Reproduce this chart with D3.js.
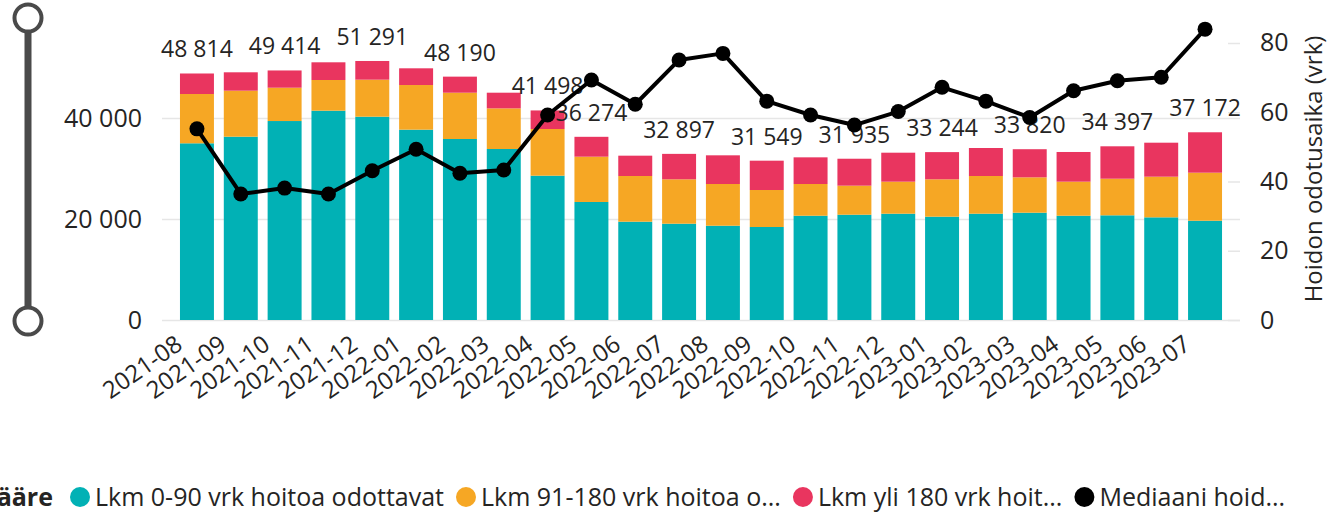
<html>
<head>
<script src="https://d3js.org/d3.v7.min.js"></script>
<style>
  body { margin: 0; background: #fff; }
  text { font-family: "Open Sans", "Noto Sans", sans-serif; fill: #252423; }
</style>
</head>
<body>
<svg id="chart" width="1332" height="514"></svg>
<script>
const months = ["2021-08", "2021-09", "2021-10", "2021-11", "2021-12", "2022-01", "2022-02", "2022-03",
  "2022-04", "2022-05", "2022-06", "2022-07", "2022-08", "2022-09", "2022-10", "2022-11", "2022-12",
  "2023-01", "2023-02", "2023-03", "2023-04", "2023-05", "2023-06", "2023-07"];
const lkm0_90 = [34990, 36300, 39400, 41450, 40260, 37690, 35840, 33860, 28580, 23370, 19470, 19070,
  18670, 18415, 20650, 20850, 21050, 20460, 21050, 21250, 20650, 20730, 20330, 19660];
const lkm91_180 = [9760, 9110, 6600, 6075, 7330, 8840, 9170, 8050, 9240, 8970, 9045, 8790,
  8260, 7325, 6280, 5750, 6340, 7400, 7465, 7000, 6740, 7250, 8050, 9510];
const lkmYli180 = [4064, 3640, 3414, 3505, 3701, 3310, 3180, 3100, 3678, 3934, 4025, 5037,
  5680, 5809, 5280, 5335, 5740, 5384, 5545, 5570, 5880, 6417, 6730, 8002];
const mediaani = [55.2, 36.4, 38.1, 36.4, 43.1, 49.3, 42.4, 43.3, 59.2, 69.3, 62.3, 75.1,
  77.0, 63.2, 59.2, 56.3, 60.2, 67.2, 63.2, 58.5, 66.2, 69.1, 70.1, 84.0];
// which totals power bi showed a label for
const labelled = [0, 2, 4, 6, 8, 9, 11, 13, 15, 17, 19, 21, 23];
const leftTicks = [0, 20000, 40000];
const rightTicks = [0, 20, 40, 60, 80];
const seriesNames = ["Lkm 0-90 vrk hoitoa odottavat", "Lkm 91-180 vrk hoitoa o...", "Lkm yli 180 vrk hoit...", "Mediaani hoid..."];
const colors = ["#01B1B5", "#F6A724", "#E9355F", "#000000"];

const svg = d3.select("#chart");
const fi = d3.formatLocale({ decimal: ",", thousands: " ", grouping: [3], currency: ["", "€"] });
const fmt = fi.format(",d");

const rows = months.map((m, i) => ({ month: m, a: lkm0_90[i], b: lkm91_180[i], c: lkmYli180[i] }));
const stacked = d3.stack().keys(["a", "b", "c"])(rows);

const x = d3.scaleBand().domain(months).range([162, 1240]).paddingInner(0.225).paddingOuter(0.41);
const yL = d3.scaleLinear().domain([0, 56040]).range([320, 37]);
const yR = d3.scaleLinear().domain([0, 81.73]).range([320, 37]);

// gridlines
svg.append("g")
    .attr("transform", "translate(162,0)")
    .call(d3.axisLeft(yL).tickValues(leftTicks).tickSize(-1078).tickFormat(""))
    .call(g => g.select(".domain").remove())
    .call(g => g.selectAll("line").attr("stroke", "#e6e6e6").attr("stroke-width", 1.5));
svg.append("g")
    .attr("transform", "translate(1228,0)")
    .call(d3.axisRight(yR).tickValues(rightTicks).tickSize(12).tickFormat(""))
    .call(g => g.select(".domain").remove())
    .call(g => g.selectAll("line").attr("stroke", "#e6e6e6").attr("stroke-width", 1.5));

// bars
svg.append("g").selectAll("g").data(stacked).join("g")
    .attr("fill", (d, i) => colors[i])
    .selectAll("rect").data(d => d).join("rect")
    .attr("x", d => x(d.data.month))
    .attr("width", x.bandwidth())
    .attr("y", d => yL(d[1]))
    .attr("height", d => yL(d[0]) - yL(d[1]));

// total labels
svg.append("g").selectAll("text").data(labelled).join("text")
    .attr("x", i => x(months[i]) + x.bandwidth() / 2)
    .attr("y", i => yL(lkm0_90[i] + lkm91_180[i] + lkmYli180[i]) - 16)
    .attr("text-anchor", "middle")
    .style("font-size", "23px")
    .text(i => fmt(lkm0_90[i] + lkm91_180[i] + lkmYli180[i]));

// median line
const line = d3.line()
    .x((d, i) => x(months[i]) + x.bandwidth() / 2)
    .y(d => yR(d));
svg.append("path").datum(mediaani)
    .attr("d", line)
    .attr("fill", "none")
    .attr("stroke", "#000")
    .attr("stroke-width", 4)
    .attr("stroke-linejoin", "round");
svg.append("g").selectAll("circle").data(mediaani).join("circle")
    .attr("cx", (d, i) => x(months[i]) + x.bandwidth() / 2)
    .attr("cy", d => yR(d))
    .attr("r", 7.5)
    .attr("fill", "#000");

// axes
svg.append("g")
    .attr("transform", "translate(142,0)")
    .call(d3.axisLeft(yL).tickValues(leftTicks).tickFormat(fmt).tickSize(0).tickPadding(0))
    .call(g => g.select(".domain").remove())
    .call(g => g.selectAll("text").style("font-size", "25px").attr("fill", "#252423"));

svg.append("g")
    .attr("transform", "translate(1260,0)")
    .call(d3.axisRight(yR).tickValues(rightTicks).tickSize(0).tickPadding(0))
    .call(g => g.select(".domain").remove())
    .call(g => g.selectAll("text").style("font-size", "25px").attr("fill", "#252423"));

svg.append("g")
    .attr("transform", "translate(0,320)")
    .call(d3.axisBottom(x).tickSize(0))
    .call(g => g.select(".domain").remove())
    .call(g => g.selectAll("text")
        .attr("y", 0).attr("dy", 0)
        .attr("transform", "translate(-13,28) rotate(-35)")
        .attr("text-anchor", "end")
        .style("font-size", "24px")
        .attr("fill", "#252423"));

svg.append("text")
    .attr("transform", "translate(1322,169) rotate(-90)")
    .attr("text-anchor", "middle")
    .style("font-size", "24px")
    .text("Hoidon odotusaika (vrk)");

// slicer handle on the left
const slider = svg.append("g").attr("stroke", "#4a4a4a");
slider.append("line").attr("x1", 28).attr("x2", 28).attr("y1", 18).attr("y2", 321).attr("stroke-width", 7);
slider.selectAll("circle").data([18, 321]).join("circle")
    .attr("cx", 28).attr("cy", d => d).attr("r", 13.5)
    .attr("fill", "#fff").attr("stroke-width", 4);

// legend
const legend = svg.append("g");
legend.append("text")
    .attr("x", 53).attr("y", 506)
    .attr("text-anchor", "end")
    .style("font-size", "25px").style("font-weight", "bold")
    .text("ääre");
let lx = 80;
seriesNames.forEach((name, i) => {
    legend.append("circle").attr("cx", lx).attr("cy", 497).attr("r", 10).attr("fill", colors[i]);
    const t = legend.append("text")
        .attr("x", lx + 15).attr("y", 506)
        .style("font-size", "25px")
        .text(name);
    lx = lx + 15 + t.node().getComputedTextLength() + 22;
});
</script>
</body>
</html>
